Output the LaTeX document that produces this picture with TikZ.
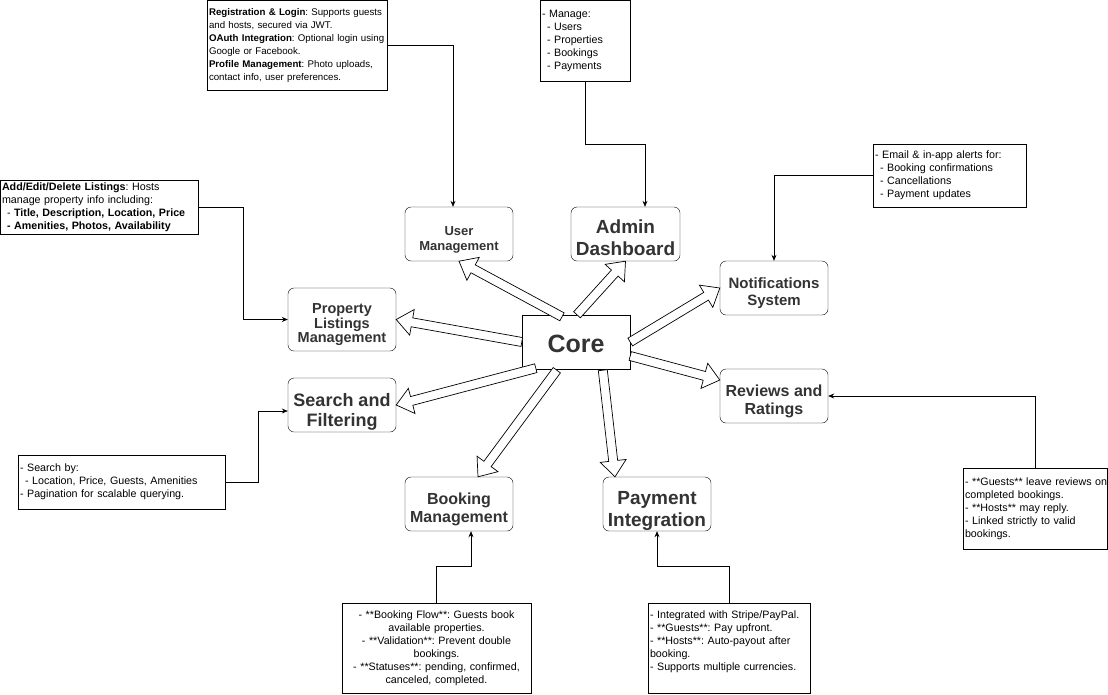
\documentclass[tikz,border=0pt]{standalone}
\usepackage{fontspec}
\setmainfont{Liberation Sans}
\usetikzlibrary{arrows.meta,calc}
\definecolor{textgray}{RGB}{51,51,51}
\newcommand{\fsize}[2]{\fontsize{#1}{#2}\selectfont}
% module label, set a bit low in its box
\newcommand{\modtext}[2][6pt]{\raisebox{-#1}[\height][\depth]{\begin{tabular}{@{}c@{}}#2\end{tabular}}}
% hollow block arrow from #1 to #2
\newcommand{\flexarrow}[2]{%
  \coordinate (fa-a) at #1;
  \coordinate (fa-b) at #2;
  \coordinate (fa-c) at ($(fa-b)!16pt!(fa-a)$);
  \draw[hollow] ($(fa-a)!4.5pt!90:(fa-b)$) -- ($(fa-c)!4.5pt!90:(fa-b)$)
    -- ($(fa-c)!13pt!90:(fa-b)$) -- (fa-b) -- ($(fa-c)!13pt!-90:(fa-b)$)
    -- ($(fa-c)!4.5pt!-90:(fa-b)$) -- ($(fa-a)!4.5pt!-90:(fa-b)$) -- cycle;
}
\tikzset{
  module/.style={draw, rounded corners=6pt, fill=white, minimum width=108pt,
    minimum height=54pt, text=textgray, inner sep=1pt},
  corebox/.style={draw, fill=white, minimum width=108pt, minimum height=54pt,
    text=textgray, font=\bfseries\fsize{25}{30}},
  notebox/.style={draw, fill=white, inner sep=0pt},
  notetext/.style={inner sep=0pt, align=left, text width=220pt, font=\fsize{10.7}{13}\frenchspacing},
  link/.style={-{Stealth[length=6pt,width=5pt]}, line width=0.7pt},
  hollow/.style={draw, fill=white, line width=0.7pt, line join=miter}
}

\begin{document}
\begin{tikzpicture}[x=1pt,y=-1pt]
  \useasboundingbox (0,0) rectangle (1108,694);

  % Modules
  \node[corebox] (core) at (576,342) {\modtext[4pt]{Core}};
  \node[module, font=\bfseries\fsize{13}{15}] (user) at (459,234) {\modtext{User\\Management}};
  \node[module, font=\bfseries\fsize{19}{22}, minimum width=109pt] (admin) at (625.5,234) {\modtext{Admin\\Dashboard}};
  \node[module, font=\bfseries\fsize{15}{17}] (notif) at (774,288) {\modtext{Notifications\\System}};
  \node[module, font=\bfseries\fsize{14.5}{14}, minimum height=63pt] (prop) at (342,319.5) {\modtext{Property\\Listings\\Management}};
  \node[module, font=\bfseries\fsize{18}{20}] (search) at (342,405) {\modtext[7pt]{Search and\\Filtering}};
  \node[module, font=\bfseries\fsize{16}{18}] (reviews) at (774,396) {\modtext{Reviews and\\Ratings}};
  \node[module, font=\bfseries\fsize{16}{18}] (booking) at (459,504) {\modtext{Booking\\Management}};
  \node[module, font=\bfseries\fsize{19}{22}] (payment) at (657,504) {\modtext[7pt]{Payment\\Integration}};

  % Notes
  \node[notebox, minimum width=180pt, minimum height=90pt] (authnote) at (297,45) {};
  \node[notetext, font=\fsize{9.7}{13}\frenchspacing, anchor=west] (authtext) at ([xshift=2pt]authnote.west)
    {\textbf{Registration \& Login}: Supports guests\\and hosts, secured via JWT.\\
     \textbf{OAuth Integration}: Optional login using\\Google or Facebook.\\
     \textbf{Profile Management}: Photo uploads,\\contact info, user preferences.};

  \node[notebox, minimum width=90pt, minimum height=81pt] (adminnote) at (585,40.5) {};
  \node[notetext, anchor=west] (admintext) at ([xshift=2pt]adminnote.west)
    {- Manage:\\\hspace*{5pt}- Users\\\hspace*{5pt}- Properties\\\hspace*{5pt}- Bookings\\\hspace*{5pt}- Payments};

  \node[notebox, minimum width=153pt, minimum height=63pt] (notifnote) at (949.5,175.5) {};
  \node[notetext, anchor=west] (notiftext) at ([xshift=2pt]notifnote.west)
    {- Email \& in-app alerts for:\\\hspace*{5pt}- Booking confirmations\\\hspace*{5pt}- Cancellations\\\hspace*{5pt}- Payment updates};

  \node[notebox, minimum width=198pt, minimum height=54pt] (listnote) at (99,207) {};
  \node[notetext, anchor=west] (listtext) at ([xshift=2pt]listnote.west)
    {\textbf{Add/Edit/Delete Listings}: Hosts\\manage property info including:\\
     \hspace*{5pt}- \textbf{Title, Description, Location, Price}\\
     \hspace*{5pt}\textbf{- Amenities, Photos, Availability}};

  \node[notebox, minimum width=207pt, minimum height=54pt] (searchnote) at (121.5,482) {};
  \node[notetext, anchor=west] (searchtext) at ([xshift=2pt]searchnote.west)
    {- Search by:\\\hspace*{5pt}- Location, Price, Guests, Amenities\\- Pagination for scalable querying.};

  \node[notebox, minimum width=144pt, minimum height=81pt] (reviewnote) at (1035,508.5) {};
  \node[notetext, anchor=west] (reviewtext) at ([xshift=2pt]reviewnote.west)
    {- **Guests** leave reviews on\\completed bookings.\\- **Hosts** may reply.\\- Linked strictly to valid\\bookings.};

  \node[notebox, minimum width=189pt, minimum height=90pt] (booknote) at (436.5,648) {};
  \node[notetext, align=center] (booktext) at (booknote.center)
    {- **Booking Flow**: Guests book\\available properties.\\- **Validation**: Prevent double\\bookings.\\
     - **Statuses**: pending, confirmed,\\canceled, completed.};

  \node[notebox, minimum width=162pt, minimum height=90pt] (paynote) at (729,648) {};
  \node[notetext, anchor=north west] (paytext) at ([xshift=2pt,yshift=-8pt]paynote.north west)
    {- Integrated with Stripe/PayPal.\\- **Guests**: Pay upfront.\\- **Hosts**: Auto-payout after\\booking.\\
     - Supports multiple currencies.};

  % Note links
  \draw[link] (authnote.east) -| ([xshift=-6pt]user.north);
  \draw[link] (adminnote.south) -- ++(0,63) -| ([xshift=19.5pt]admin.north);
  \draw[link] (notifnote.west) -| (notif.north);
  \draw[link] (listnote.east) -- ++(45,0) |- (prop.west);
  \draw[link] (searchnote.east) -- ++(33,0) |- ([yshift=-6pt]search.west);
  \draw[link] (reviewnote.north) |- (reviews.east);
  \draw[link] (booknote.north) -- ++(0,-36) -| ([xshift=12pt]booking.south);
  \draw[link] (paynote.north) -- ++(0,-36) -| (payment.south);

  % Block arrows from core
  \flexarrow{($(core.north)+(-14,2)$)}{(user.south)}
  \flexarrow{($(core.north)+(1,0)$)}{(admin.south)}
  \flexarrow{(core.east)}{(notif.west)}
  \flexarrow{(core.west)}{(prop.east)}
  \flexarrow{($(core.south west)+(14,-1)$)}{(search.east)}
  \flexarrow{($(core.east)+(0,14)$)}{($(reviews.west)+(0,-16)$)}
  \flexarrow{($(core.south west)+(35,1)$)}{($(booking.north)+(19,0)$)}
  \flexarrow{($(core.south west)+(81,1)$)}{($(payment.north)+(-42,0)$)}
\end{tikzpicture}
\end{document}
